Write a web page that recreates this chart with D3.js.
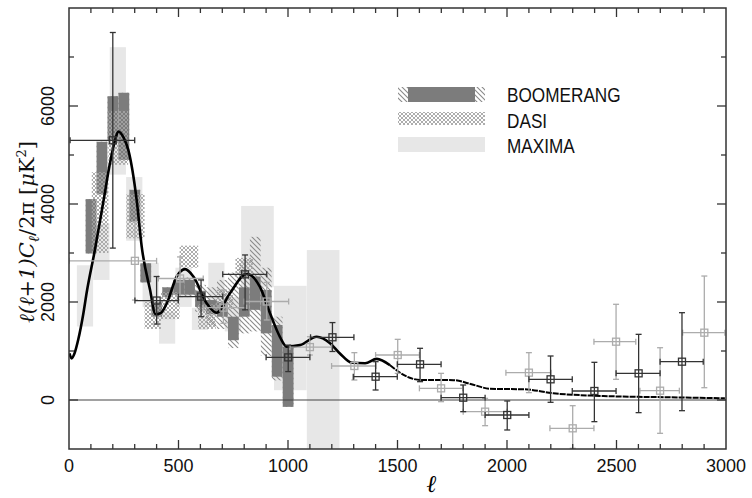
<!DOCTYPE html>
<html>
<head>
<meta charset="utf-8">
<script src="https://cdnjs.cloudflare.com/ajax/libs/d3/7.8.5/d3.min.js"></script>
<style>
body { margin: 0; background: #fff; }
text { font-family: "Liberation Sans", Arial, sans-serif; }
</style>
</head>
<body>
<div id="chart"></div>
<script>
var width = 752;
var height = 498;
var plotLeft = 69, plotRight = 726, plotTop = 8, plotBottom = 449;

// band powers: [l from, l to, low, high]
var maximaBands = [
    [36, 110, 1500, 2750], [111, 185, 2450, 3600], [186, 260, 4600, 7200],
    [261, 335, 3250, 4550], [336, 410, 1900, 2800], [411, 485, 1150, 1800],
    [486, 560, 1900, 2700], [561, 635, 1430, 1880], [636, 710, 1700, 2800],
    [711, 785, 1400, 2100], [786, 935, 2300, 3960], [936, 1085, 200, 2330],
    [1086, 1235, -1500, 3060]
];
var dasiBands = [
    [104, 180, 3000, 4650], [180, 270, 4800, 5900], [262, 345, 3300, 4200],
    [345, 420, 1450, 2000], [420, 505, 1650, 2200], [505, 590, 2700, 3150],
    [590, 670, 1450, 1950], [670, 750, 1850, 2250], [760, 840, 2500, 2900]
];
// [l from, l to, low, high, hatched low, hatched high]
var boomerangBands = [
    [76, 125, 2990, 4100, 2990, 4100], [126, 175, 4200, 5270, 4200, 5270],
    [176, 225, 5300, 6200, 5300, 6200], [226, 275, 4900, 6270, 4900, 6270],
    [276, 325, 3640, 4290, 3640, 4290], [326, 375, 2400, 2790, 2400, 2790],
    [376, 425, 1700, 2000, 1700, 2000], [426, 475, 2100, 2300, 2100, 2300],
    [476, 525, 2150, 2450, 2150, 2450], [526, 575, 2150, 2450, 2100, 2500],
    [576, 625, 1900, 2230, 1800, 2350], [626, 675, 1750, 2040, 1500, 2300],
    [676, 725, 1700, 2000, 1450, 2450], [726, 775, 1220, 1700, 1060, 2600],
    [776, 825, 1700, 2300, 1360, 2860], [826, 875, 1840, 2520, 1400, 3330],
    [876, 925, 1360, 2245, 900, 2700], [926, 975, 475, 1530, 400, 1700],
    [976, 1025, -140, 1090, -140, 1090]
];

// points: [l, value, l low, l high, value low, value high]
var darkPoints = [
    [200, 5300, 5, 300, 3100, 7500], [400, 2030, 301, 499, 1550, 2520],
    [603, 2110, 499, 702, 1700, 2450], [804, 2565, 702, 903, 1840, 2960],
    [1001, 870, 900, 1100, 580, 1120], [1203, 1280, 1103, 1301, 990, 1580],
    [1400, 476, 1298, 1499, 204, 782], [1603, 728, 1499, 1699, 374, 1055],
    [1800, 47, 1699, 1900, -238, 306], [2001, -306, 1900, 2100, -612, -20],
    [2199, 422, 2100, 2298, -47, 898], [2399, 184, 2298, 2498, -442, 769],
    [2601, 544, 2498, 2699, -258, 1340], [2799, 782, 2699, 2896, -218, 1782]
];
var grayPoints = [
    [301, 2840, 0, 400, 2040, 3640], [507, 2480, 408, 613, 2110, 2920],
    [705, 1885, 613, 811, 1565, 2245], [903, 2010, 800, 1003, 1633, 2400],
    [1100, 1080, 1009, 1199, 918, 1292], [1303, 694, 1199, 1402, 408, 966],
    [1501, 918, 1400, 1600, 544, 1238], [1699, 238, 1600, 1798, -34, 544],
    [1900, -238, 1800, 2000, -524, 34], [2100, 558, 1995, 2201, 150, 966],
    [2300, -578, 2196, 2397, -986, -116], [2498, 1190, 2397, 2588, 422, 1953],
    [2699, 190, 2607, 2787, -680, 1067], [2901, 1374, 2802, 2995, 251, 2530]
];

// model curve
var theoryL = [2, 12, 25, 42, 65, 81, 119, 157, 187, 210, 225, 250, 271, 309, 332, 370, 395, 420,
    446, 492, 530, 568, 629, 674, 735, 811, 872, 918, 963, 994, 1055, 1131, 1192, 1237,
    1291, 1352, 1405, 1466, 1542, 1603, 1755, 1846, 1922, 2082, 2211, 2440, 2744, 2995];
var theoryCl = [950, 850, 950, 1230, 1750, 2200, 3080, 4050, 4830, 5300, 5480, 5350, 5100, 4080, 3130, 2250, 1750, 1780,
    1970, 2520, 2670, 2520, 1970, 1780, 2180, 2570, 2310, 1770, 1290, 1090, 1120, 1290, 1160, 950,
    760, 750, 840, 710, 480, 410, 405, 310, 230, 218, 137, 82, 55, 35];

var xTickLabels = [0, 500, 1000, 1500, 2000, 2500, 3000];
var yTickLabels = [0, 2000, 4000, 6000];
var legendNames = ["BOOMERANG", "DASI", "MAXIMA"];

var x = d3.scaleLinear().domain([0, 3000]).range([plotLeft, plotRight]);
var y = d3.scaleLinear().domain([-1000, 8000]).range([plotBottom, plotTop]);

var svg = d3.select("#chart")
    .append("svg")
    .attr("width", width)
    .attr("height", height);

var defs = svg.append("defs");
defs.append("clipPath").attr("id", "plotclip")
    .append("rect")
    .attr("x", plotLeft).attr("y", plotTop)
    .attr("width", plotRight - plotLeft).attr("height", plotBottom - plotTop);

var hatch = defs.append("pattern")
    .attr("id", "hatch")
    .attr("patternUnits", "userSpaceOnUse")
    .attr("width", 5).attr("height", 5);
hatch.append("path")
    .attr("d", "M0,0L5,5M-1,4L1,6M4,-1L6,1")
    .style("stroke", "#8a8a8a")
    .style("stroke-width", 1.1);

var cross = defs.append("pattern")
    .attr("id", "cross")
    .attr("patternUnits", "userSpaceOnUse")
    .attr("width", 4).attr("height", 4);
cross.append("path")
    .attr("d", "M0,0L4,4M4,0L0,4")
    .style("stroke", "#a4a4a4")
    .style("stroke-width", 0.9)
    .style("fill", "none");

var plot = svg.append("g").attr("clip-path", "url(#plotclip)");

function bandRects(cls, data, lo, hi, fill) {
    plot.selectAll("." + cls)
        .data(data)
        .enter().append("rect")
        .attr("class", cls)
        .attr("x", function(d) { return x(d[0]); })
        .attr("width", function(d) { return x(d[1]) - x(d[0]); })
        .attr("y", function(d) { return y(d[hi]); })
        .attr("height", function(d) { return y(d[lo]) - y(d[hi]); })
        .style("fill", fill);
}

bandRects("maxima", maximaBands, 2, 3, "#e7e7e7");
bandRects("boomhatch", boomerangBands, 4, 5, "url(#hatch)");
bandRects("boom", boomerangBands, 2, 3, "#7c7c7c");
bandRects("dasi", dasiBands, 2, 3, "url(#cross)");

// zero line
plot.append("line")
    .attr("x1", plotLeft).attr("x2", plotRight)
    .attr("y1", y(0)).attr("y2", y(0))
    .style("stroke", "#444")
    .style("stroke-width", 1.2);

var theory = theoryL.map(function(l, i) { return [l, theoryCl[i]]; });
var line = d3.line()
    .x(function(d) { return x(d[0]); })
    .y(function(d) { return y(d[1]); })
    .curve(d3.curveMonotoneX);

plot.append("path")
    .datum(theory.filter(function(d) { return d[0] <= 1500; }))
    .attr("d", line)
    .style("fill", "none")
    .style("stroke", "#000")
    .style("stroke-width", 2.6);
plot.append("path")
    .datum(theory.filter(function(d) { return d[0] >= 1466; }))
    .attr("d", line)
    .style("fill", "none")
    .style("stroke", "#000")
    .style("stroke-width", 2)
    .style("stroke-dasharray", "6,1");

function errorPoints(cls, data, color) {
    var g = plot.selectAll("." + cls)
        .data(data)
        .enter().append("g")
        .attr("class", cls)
        .style("stroke", color)
        .style("stroke-width", 1.3)
        .style("fill", "none");
    g.append("line")
        .attr("x1", function(d) { return x(d[2]); })
        .attr("x2", function(d) { return x(d[3]); })
        .attr("y1", function(d) { return y(d[1]); })
        .attr("y2", function(d) { return y(d[1]); });
    g.append("line")
        .attr("x1", function(d) { return x(d[0]); })
        .attr("x2", function(d) { return x(d[0]); })
        .attr("y1", function(d) { return y(d[4]); })
        .attr("y2", function(d) { return y(d[5]); });
    // end caps
    [2, 3].forEach(function(k) {
        g.append("line")
            .attr("x1", function(d) { return x(d[k]); })
            .attr("x2", function(d) { return x(d[k]); })
            .attr("y1", function(d) { return y(d[1]) - 3; })
            .attr("y2", function(d) { return y(d[1]) + 3; });
    });
    [4, 5].forEach(function(k) {
        g.append("line")
            .attr("x1", function(d) { return x(d[0]) - 3; })
            .attr("x2", function(d) { return x(d[0]) + 3; })
            .attr("y1", function(d) { return y(d[k]); })
            .attr("y2", function(d) { return y(d[k]); });
    });
    g.append("rect")
        .attr("x", function(d) { return x(d[0]) - 3.5; })
        .attr("y", function(d) { return y(d[1]) - 3.5; })
        .attr("width", 7)
        .attr("height", 7);
}

errorPoints("gray", grayPoints, "#acacac");
errorPoints("dark", darkPoints, "#333");

// frame and ticks
svg.append("rect")
    .attr("x", plotLeft).attr("y", plotTop)
    .attr("width", plotRight - plotLeft).attr("height", plotBottom - plotTop)
    .style("fill", "none")
    .style("stroke", "#333")
    .style("stroke-width", 1.5);

var ticks = svg.append("g").style("stroke", "#333").style("stroke-width", 1.3);
d3.range(100, 3000, 100).forEach(function(t) {
    var len = t % 500 == 0 ? 9 : 5;
    ticks.append("line").attr("x1", x(t)).attr("x2", x(t))
        .attr("y1", plotBottom).attr("y2", plotBottom - len);
    ticks.append("line").attr("x1", x(t)).attr("x2", x(t))
        .attr("y1", plotTop).attr("y2", plotTop + len);
});
d3.range(0, 8000, 1000).forEach(function(t) {
    var len = t % 2000 == 0 ? 9 : 5;
    ticks.append("line").attr("y1", y(t)).attr("y2", y(t))
        .attr("x1", plotLeft).attr("x2", plotLeft + len);
    ticks.append("line").attr("y1", y(t)).attr("y2", y(t))
        .attr("x1", plotRight).attr("x2", plotRight - len);
});

svg.selectAll(".xlab")
    .data(xTickLabels)
    .enter().append("text")
    .attr("class", "xlab")
    .attr("x", function(d) { return x(d); })
    .attr("y", 472)
    .attr("text-anchor", "middle")
    .style("font-size", "18px")
    .style("fill", "#111")
    .text(function(d) { return d; });

svg.selectAll(".ylab")
    .data(yTickLabels)
    .enter().append("text")
    .attr("class", "ylab")
    .attr("transform", function(d) { return "translate(54," + y(d) + ") rotate(-90)"; })
    .attr("text-anchor", "middle")
    .style("font-size", "18px")
    .style("fill", "#111")
    .text(function(d) { return d; });

// axis titles
svg.append("text")
    .attr("x", 432).attr("y", 492)
    .attr("text-anchor", "middle")
    .style("font-family", "DejaVu Serif")
    .style("font-style", "italic")
    .style("font-weight", "bold")
    .style("font-size", "24px")
    .text("ℓ");

var ytitle = svg.append("text")
    .attr("transform", "translate(34,232) rotate(-90)")
    .attr("text-anchor", "middle")
    .style("font-family", "DejaVu Serif")
    .style("font-size", "21px")
    .style("fill", "#111");
ytitle.append("tspan").style("font-style", "italic").text("ℓ(ℓ+1)");
ytitle.append("tspan").style("font-style", "italic").text("C");
ytitle.append("tspan").attr("dy", 5).style("font-size", "15px").style("font-style", "italic").text("ℓ");
ytitle.append("tspan").attr("dy", -5).text("/2π [");
ytitle.append("tspan").style("font-style", "italic").text("μ");
ytitle.append("tspan").text("K");
ytitle.append("tspan").attr("dy", -8).style("font-size", "13px").text("2");
ytitle.append("tspan").attr("dy", 8).text("]");

// legend
var legend = svg.append("g");
legend.append("rect").attr("x", 398).attr("y", 87).attr("width", 87).attr("height", 15)
    .style("fill", "url(#hatch)");
legend.append("rect").attr("x", 408).attr("y", 87).attr("width", 67).attr("height", 15)
    .style("fill", "#7c7c7c");
legend.append("rect").attr("x", 398).attr("y", 112).attr("width", 87).attr("height", 13)
    .style("fill", "url(#cross)");
legend.append("rect").attr("x", 398).attr("y", 137).attr("width", 87).attr("height", 15)
    .style("fill", "#e7e7e7");
legend.selectAll(".legtext")
    .data(legendNames)
    .enter().append("text")
    .attr("class", "legtext")
    .attr("transform", function(d, i) { return "translate(507," + (102 + i * 25.5) + ") scale(0.86,1)"; })
    .style("font-size", "20px")
    .style("fill", "#111")
    .text(function(d) { return d; });
</script>
</body>
</html>
